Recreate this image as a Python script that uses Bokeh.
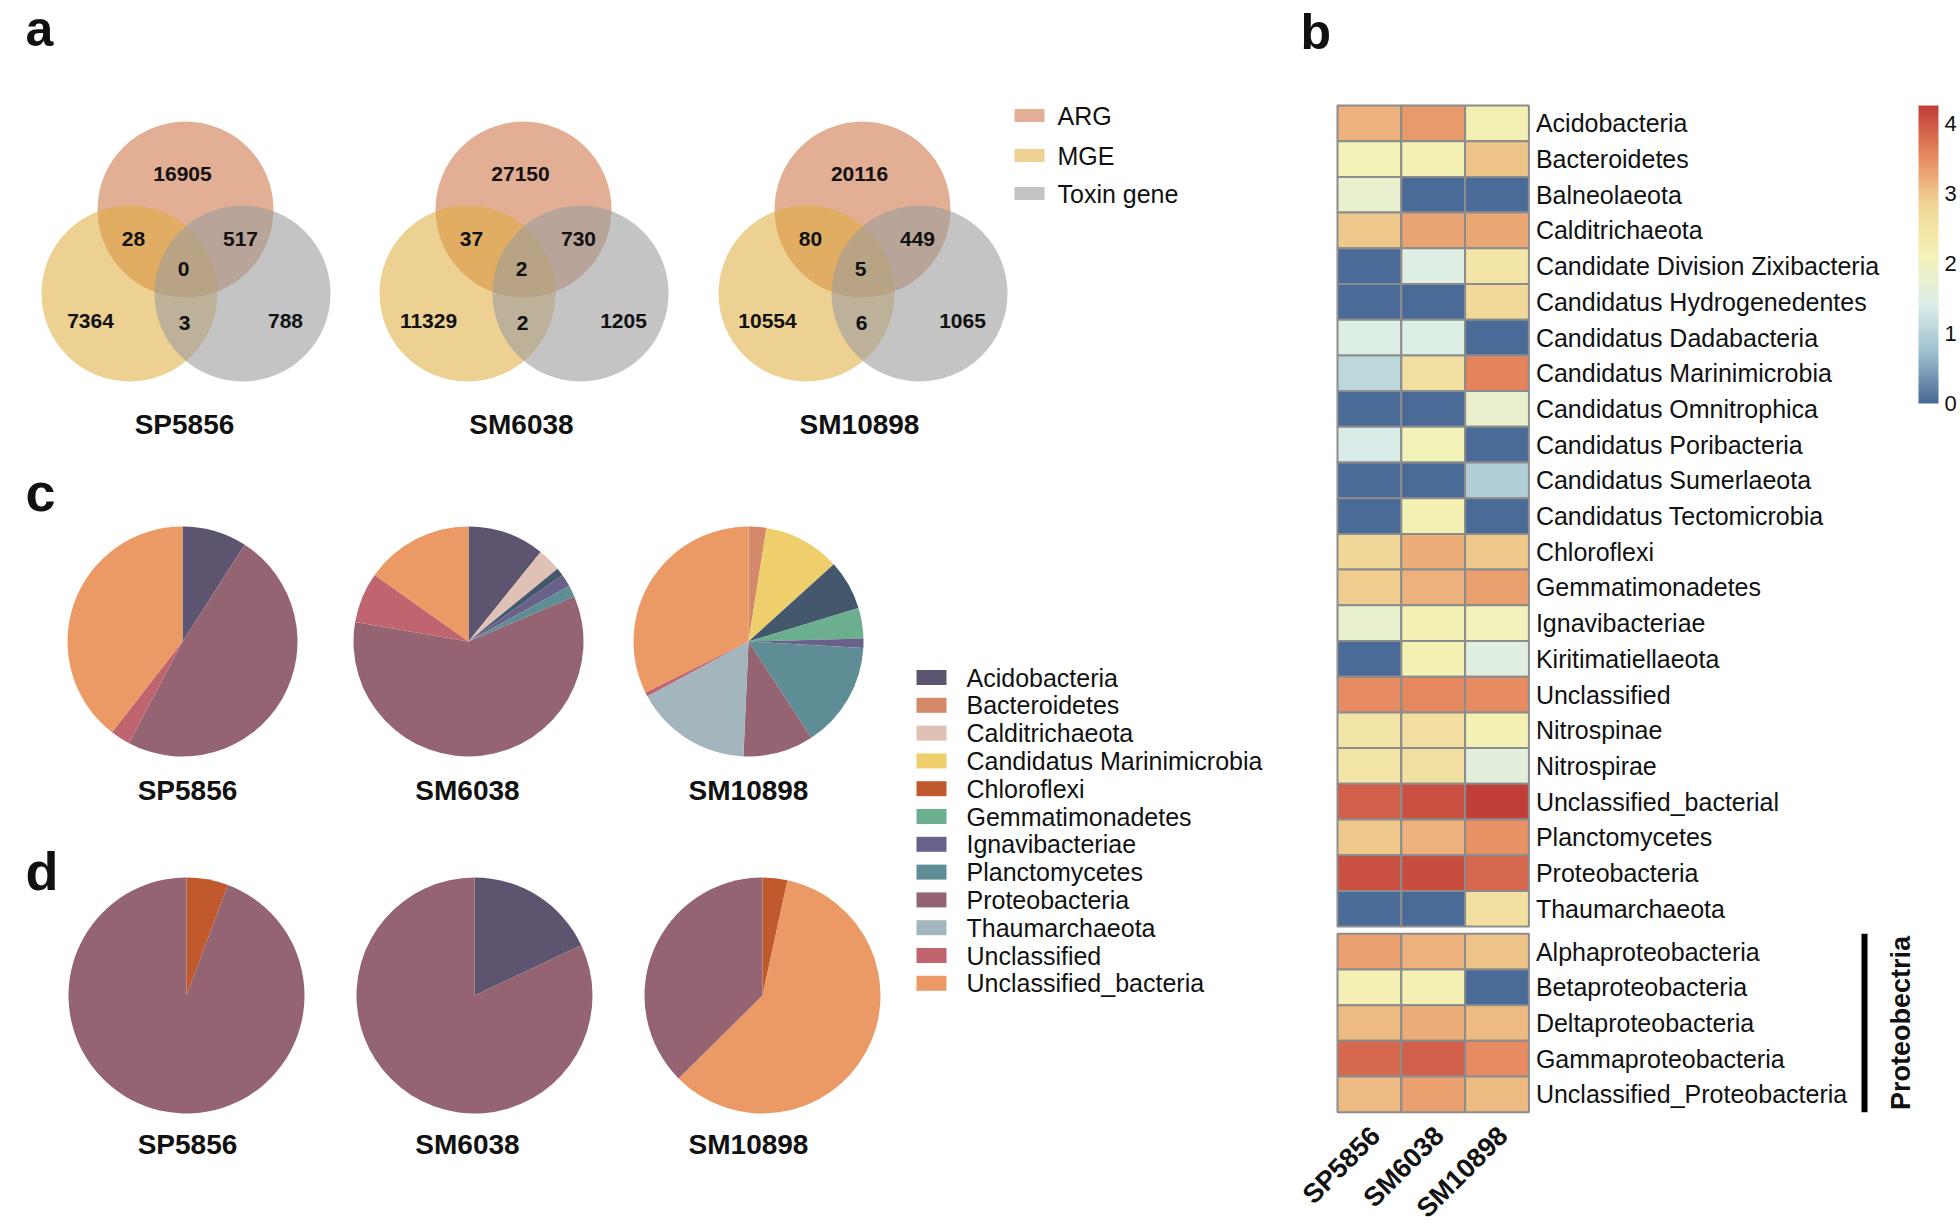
import math
from bokeh.plotting import figure
from bokeh.layouts import row
from bokeh.models import Range1d, LinearColorMapper, ColorBar, FixedTicker, ColumnDataSource
from bokeh.core.properties import value
from bokeh.embed import file_html
from bokeh.resources import INLINE

FONT = "Liberation Sans"

# ------------------------------------------------------------------ data
samples = ["SP5856", "SM6038", "SM10898"]

# Venn counts: ARG only, ARG&MGE, ARG&Toxin, all three, MGE only, MGE&Toxin, Toxin only
venn_regions = ["ARG", "ARG&MGE", "ARG&Toxin", "ARG&MGE&Toxin", "MGE", "MGE&Toxin", "Toxin"]
venn_SP5856 = [16905, 28, 517, 0, 7364, 3, 788]
venn_SM6038 = [27150, 37, 730, 2, 11329, 2, 1205]
venn_SM10898 = [20116, 80, 449, 5, 10554, 6, 1065]
gene_sets = ["ARG", "MGE", "Toxin gene"]

legend_taxa = ["Acidobacteria", "Bacteroidetes", "Calditrichaeota", "Candidatus Marinimicrobia",
               "Chloroflexi", "Gemmatimonadetes", "Ignavibacteriae", "Planctomycetes",
               "Proteobacteria", "Thaumarchaeota", "Unclassified", "Unclassified_bacteria"]

# panel c (percent, clockwise from 12 o'clock)
c_SP5856_taxa = ["Acidobacteria", "Proteobacteria", "Unclassified", "Unclassified_bacteria"]
c_SP5856_pct = [9.1, 48.6, 2.8, 39.5]
c_SM6038_taxa = ["Acidobacteria", "Calditrichaeota", "Other", "Ignavibacteriae", "Planctomycetes",
                 "Proteobacteria", "Unclassified", "Unclassified_bacteria"]
c_SM6038_pct = [10.8, 3.3, 1.1, 1.8, 1.6, 59.1, 7.1, 15.2]
c_SM10898_taxa = ["Bacteroidetes", "Candidatus Marinimicrobia", "Other", "Gemmatimonadetes",
                  "Ignavibacteriae", "Planctomycetes", "Proteobacteria", "Thaumarchaeota",
                  "Unclassified", "Unclassified_bacteria"]
c_SM10898_pct = [2.5, 10.8, 7.0, 4.3, 1.3, 14.9, 9.9, 16.4, 0.6, 32.3]

# panel d
d_SP5856_taxa = ["Chloroflexi", "Proteobacteria"]
d_SP5856_pct = [5.7, 94.3]
d_SM6038_taxa = ["Acidobacteria", "Proteobacteria"]
d_SM6038_pct = [18.0, 82.0]
d_SM10898_taxa = ["Chloroflexi", "Unclassified_bacteria", "Proteobacteria"]
d_SM10898_pct = [3.4, 59.2, 37.4]

# panel b heatmap
heat_taxa = ["Acidobacteria", "Bacteroidetes", "Balneolaeota", "Calditrichaeota",
             "Candidate Division Zixibacteria", "Candidatus Hydrogenedentes",
             "Candidatus Dadabacteria", "Candidatus Marinimicrobia", "Candidatus Omnitrophica",
             "Candidatus Poribacteria", "Candidatus Sumerlaeota", "Candidatus Tectomicrobia",
             "Chloroflexi", "Gemmatimonadetes", "Ignavibacteriae", "Kiritimatiellaeota",
             "Unclassified", "Nitrospinae", "Nitrospirae", "Unclassified_bacterial",
             "Planctomycetes", "Proteobacteria", "Thaumarchaeota"]
heat_proteo = ["Alphaproteobacteria", "Betaproteobacteria", "Deltaproteobacteria",
               "Gammaproteobacteria", "Unclassified_Proteobacteria"]
heat_SP5856 = [3.15, 2.1, 1.8, 2.95, 0, 0, 1.45, 1.1, 0, 1.4, 0, 0, 2.8, 2.9, 1.8, 0,
               3.5, 2.5, 2.5, 3.95, 2.95, 4.05, 0,
               3.35, 2.2, 3.1, 3.85, 3.1]
heat_SM6038 = [3.4, 2.15, 0, 3.3, 1.5, 0, 1.45, 2.55, 0, 2.1, 0, 2.15, 3.2, 3.15, 2.15, 2.15,
               3.55, 2.6, 2.55, 4.05, 3.15, 4.12, 0,
               3.15, 2.2, 3.2, 3.95, 3.35]
heat_SM10898 = [2.2, 3.0, 0, 3.25, 2.45, 2.75, 0, 3.6, 1.8, 0, 0.95, 0, 2.95, 3.35, 2.05, 1.55,
                3.5, 2.15, 1.6, 4.23, 3.45, 3.85, 2.55,
                3.0, 0, 3.1, 3.5, 3.1]
cbar_ticks = [0, 1, 2, 3, 4]

# ------------------------------------------------------------------ styles
taxa_colors = {
    "Acidobacteria": "#5D5470", "Bacteroidetes": "#D4896A", "Calditrichaeota": "#DFC1B5",
    "Candidatus Marinimicrobia": "#EFCF6C", "Chloroflexi": "#C05A2D",
    "Gemmatimonadetes": "#6CAF8F", "Ignavibacteriae": "#696189", "Planctomycetes": "#5E8D95",
    "Proteobacteria": "#956473", "Thaumarchaeota": "#A3B6BE", "Unclassified": "#C06570",
    "Unclassified_bacteria": "#EB9A65", "Other": "#43576D",
}
set_colors = ["#CA6D3E", "#DEAB3B", "#9D9D9D"]
set_alpha = [0.55, 0.55, 0.6]

anchors = ["#4A6A97", "#9DC0CF", "#DCEEE8", "#F4F2B6", "#F1D696", "#E78A60", "#C13F38"]


def _rgb(hx_):
    return tuple(int(hx_[i:i + 2], 16) for i in (1, 3, 5))


def ramp(cols, n):
    rgbs = [_rgb(c) for c in cols]
    out = []
    for k in range(n):
        t = k / (n - 1) * (len(rgbs) - 1)
        i = min(int(t), len(rgbs) - 2)
        f = t - i
        a, b = rgbs[i], rgbs[i + 1]
        out.append("#%02x%02x%02x" % tuple(round(a[m] + (b[m] - a[m]) * f) for m in range(3)))
    return out


PALETTE = ramp(anchors, 100)

# ------------------------------------------------------------------ left figure (panels a, c, d)
LW, LH = 1298, 1226
p = figure(width=LW, height=LH, x_range=Range1d(0, LW), y_range=Range1d(LH, 0),
           output_backend="svg", toolbar_location=None, x_axis_location=None,
           y_axis_location=None, min_border=0, outline_line_color=None)
p.grid.visible = False


def txt(fig, x, y, t, size, bold=False, align="center", baseline="middle", angle=0.0,
        x_offset=0, y_offset=0):
    fig.text(x=x, y=y, text=t, text_font=value(FONT), text_font_size=value(f"{size}px"),
             text_font_style="bold" if bold else "normal", text_align=align,
             text_baseline=baseline, text_color="#111111", angle=angle,
             x_offset=x_offset, y_offset=y_offset)


# panel letters
txt(p, [25], [28], ["a"], 50, bold=True, align="left", baseline="alphabetic")
txt(p, [25, 25], [491, 870], ["c", "d"], 54, bold=True, align="left", baseline="alphabetic")

# ---- Venn diagrams
venn_x = [185, 523, 862]
VR = 88
set_dx = [0, -56, 57]
set_dy = [209, 293, 293]
region_off = [(-3, -36), (-52, 29), (55, 29), (-2, 59), (-95, 111), (-1, 113), (100, 111)]
venn_counts = [venn_SP5856, venn_SM6038, venn_SM10898]
venn_label_x = [184, 521, 859]
for vx, lx, counts, name in zip(venn_x, venn_label_x, venn_counts, samples):
    for k in range(3):
        p.circle(x=[vx + set_dx[k]], y=[set_dy[k]], radius=VR, fill_color=set_colors[k],
                 fill_alpha=set_alpha[k], line_color=None)
    txt(p, [vx + o[0] for o in region_off], [209 + o[1] for o in region_off],
        [str(c) for c in counts], 21, bold=True)
    txt(p, [lx], [424], [name], 28, bold=True)

# Venn legend
leg_y = [115, 155, 193]
for k in range(3):
    p.rect(x=[1029], y=[leg_y[k]], width=30, height=13, fill_color=set_colors[k],
           fill_alpha=set_alpha[k], line_color=None)
txt(p, [1057] * 3, leg_y, gene_sets, 25, align="left")


# ---- Pies
def pie(cx, cy, r, taxa, pct):
    tot = sum(pct)
    cum = 0.0
    starts, ends, cols = [], [], []
    for t, v in zip(taxa, pct):
        a0 = cum / tot
        cum += v
        a1 = cum / tot
        starts.append(math.pi / 2 - 2 * math.pi * a1)
        ends.append(math.pi / 2 - 2 * math.pi * a0)
        cols.append(taxa_colors[t])
    p.wedge(x=[cx] * len(taxa), y=[cy] * len(taxa), radius=r, start_angle=starts,
            end_angle=ends, fill_color=cols, line_color=None)


c_sets = [(c_SP5856_taxa, c_SP5856_pct), (c_SM6038_taxa, c_SM6038_pct),
          (c_SM10898_taxa, c_SM10898_pct)]
d_sets = [(d_SP5856_taxa, d_SP5856_pct), (d_SM6038_taxa, d_SM6038_pct),
          (d_SM10898_taxa, d_SM10898_pct)]
c_x = [182, 468, 748]
d_x = [186, 474, 762]
pie_label_x = [187, 467, 748]
for cx, (t, v) in zip(c_x, c_sets):
    pie(cx, 641, 115, t, v)
for cx, (t, v) in zip(d_x, d_sets):
    pie(cx, 995, 118, t, v)
txt(p, pie_label_x, [790] * 3, samples, 28, bold=True)
txt(p, pie_label_x, [1144] * 3, samples, 28, bold=True)

# taxa legend
ly = [677 + 27.8 * i for i in range(len(legend_taxa))]
p.rect(x=[931] * len(legend_taxa), y=ly, width=30, height=15,
       fill_color=[taxa_colors[t] for t in legend_taxa], line_color=None)
txt(p, [966] * len(legend_taxa), ly, legend_taxa, 25, align="left")

# ------------------------------------------------------------------ heatmap figure (panel b)
HX0, HW, HH = LW, 1960 - LW, LH
GX0, CW, GY0, RH, GAP = 1337, 63.8, 105, 35.7, 0.2


def hx(px):
    return (px - GX0) / CW


def hy(py):
    return (py - GY0) / RH


h = figure(width=HW, height=HH, x_range=Range1d(hx(HX0), hx(HX0 + HW)),
           y_range=Range1d(hy(HH), hy(0)), output_backend="svg", toolbar_location=None,
           x_axis_location=None, y_axis_location=None, min_border=0, outline_line_color=None)
h.grid.visible = False

mapper = LinearColorMapper(palette=PALETTE, low=0, high=4.25)
rows_all = heat_taxa + heat_proteo
row_y = [i + 0.5 for i in range(len(heat_taxa))] + \
        [len(heat_taxa) + GAP + j + 0.5 for j in range(len(heat_proteo))]
cols_data = [heat_SP5856, heat_SM6038, heat_SM10898]
xs, ys, vs = [], [], []
for ci, vals in enumerate(cols_data):
    for yy, v in zip(row_y, vals):
        xs.append(ci + 0.5)
        ys.append(yy)
        vs.append(v)
src = ColumnDataSource(dict(x=xs, y=ys, v=vs))
h.rect(x="x", y="y", width=1, height=1, fill_color={"field": "v", "transform": mapper},
       line_color="#8C8C8C", line_width=2, source=src)

# row labels
txt(h, [3] * len(rows_all), row_y, rows_all, 25, align="left", x_offset=7)

# column labels (rotated)
n_main = len(heat_taxa)
txt(h, [i + 0.5 for i in range(3)], [n_main + GAP + len(heat_proteo)] * 3, samples, 27,
    bold=True, align="right", angle=math.pi / 4, x_offset=6, y_offset=19)

# Proteobacteria bracket
h.segment(x0=[hx(1864)], y0=[n_main + GAP], x1=[hx(1864)], y1=[n_main + GAP + len(heat_proteo)],
          line_color="black", line_width=6)
txt(h, [hx(1900)], [n_main + GAP + len(heat_proteo) / 2], ["Proteobectria"], 27, bold=True,
    angle=math.pi / 2)

# panel letter b
txt(h, [hx(1300)], [hy(31)], ["b"], 50, bold=True, align="left", baseline="alphabetic")

cb_x = 1918 - HX0
cb_y = HH - 403
cb = ColorBar(color_mapper=mapper, location=(cb_x, cb_y), width=20, height=298, padding=0,
              margin=0, ticker=FixedTicker(ticks=cbar_ticks), major_tick_line_color=None,
              minor_tick_line_color=None, bar_line_color=None, border_line_color=None,
              background_fill_alpha=0, label_standoff=6,
              major_label_text_font=FONT, major_label_text_font_size="22px",
              major_label_text_color="#111111", scale_alpha=1.0)
h.add_layout(cb)

layout = row(p, h)
open("out.html", "w").write(file_html(layout, INLINE))
